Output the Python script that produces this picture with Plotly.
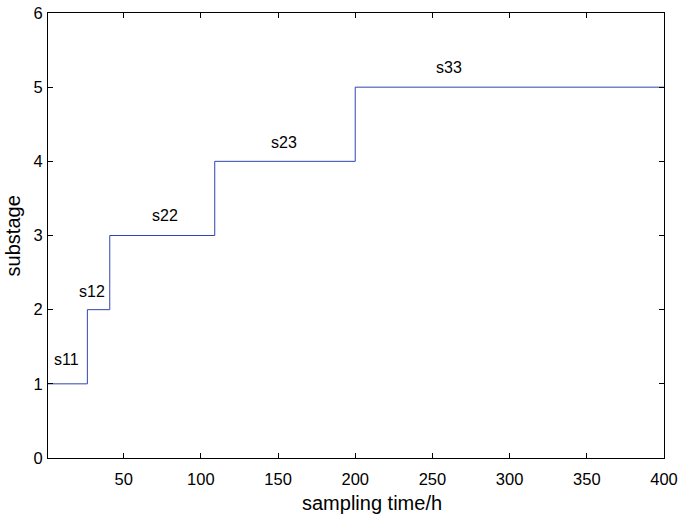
import plotly.graph_objects as go

# data
switch_times = [1, 26.5, 41, 109, 200, 400]
substages = [1, 2, 3, 4, 5, 5]
label_text = ["s11", "s12", "s22", "s23", "s33"]
label_x = [13, 29.5, 77, 154, 261]
label_y = [1.33, 2.25, 3.27, 4.25, 5.27]
x_ticks = [50, 100, 150, 200, 250, 300, 350, 400]
y_ticks = [0, 1, 2, 3, 4, 5, 6]

FONT = "Liberation Sans, Arial, Helvetica"

fig = go.Figure()
fig.add_trace(go.Scatter(x=switch_times, y=substages, mode="lines",
                         line=dict(shape="hv", color="#3045b0", width=1),
                         showlegend=False, hoverinfo="skip"))
for t, xx, yy in zip(label_text, label_x, label_y):
    fig.add_annotation(x=xx, y=yy, text=t, showarrow=False,
                       font=dict(size=16, color="black", family=FONT))

# axis titles
fig.add_annotation(xref="paper", yref="paper", x=0.526, y=-0.101,
                   text="sampling time/h", showarrow=False,
                   xanchor="center", yanchor="middle",
                   font=dict(size=20, color="black", family=FONT))
fig.add_annotation(xref="paper", yref="paper", x=-0.057, y=0.5,
                   text="substage", showarrow=False, textangle=-90,
                   xanchor="center", yanchor="middle",
                   font=dict(size=20, color="black", family=FONT))

axis_common = dict(showline=True, linecolor="black", linewidth=1, mirror="ticks",
                   ticks="inside", ticklen=5, tickcolor="black", showgrid=False,
                   zeroline=False, automargin=False,
                   tickfont=dict(size=16.5, color="black", family=FONT))
fig.update_xaxes(range=[1, 400], tickvals=x_ticks, ticklabelstandoff=6, **axis_common)
fig.update_yaxes(range=[0, 6], tickvals=y_ticks, ticklabelstandoff=1, **axis_common)
fig.update_layout(width=683, height=520, plot_bgcolor="white", paper_bgcolor="white",
                  margin=dict(l=48, r=19, t=13, b=62),
                  font=dict(family=FONT, color="black"))
fig.write_html("out.html")
